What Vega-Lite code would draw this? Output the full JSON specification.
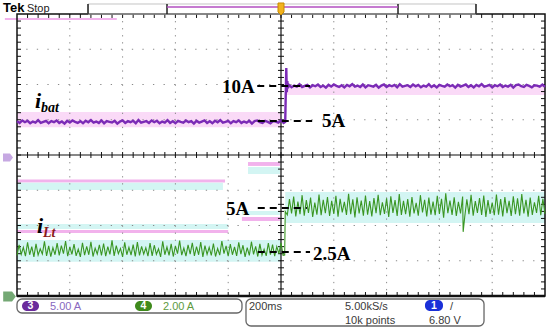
{
"$schema": "https://vega.github.io/schema/vega-lite/v6.json",
"width": 528, "height": 282,
"padding": {"left": 17, "top": 14, "right": 5, "bottom": 33},
"autosize": {"type": "none"},
"background": "white",
"config": {"view": {"stroke": null}},
"data": {"values": [{}]},
"datasets": {
"tx": [{"v":0.2},{"v":0.4},{"v":0.6},{"v":0.8},{"v":1},{"v":1.2},{"v":1.4},{"v":1.6},{"v":1.8},{"v":2},{"v":2.2},{"v":2.4},{"v":2.6},{"v":2.8},{"v":3},{"v":3.2},{"v":3.4},{"v":3.6},{"v":3.8},{"v":4},{"v":4.2},{"v":4.4},{"v":4.6},{"v":4.8},{"v":5},{"v":5.2},{"v":5.4},{"v":5.6},{"v":5.8},{"v":6},{"v":6.2},{"v":6.4},{"v":6.6},{"v":6.8},{"v":7},{"v":7.2},{"v":7.4},{"v":7.6},{"v":7.8},{"v":8},{"v":8.2},{"v":8.4},{"v":8.6},{"v":8.8},{"v":9},{"v":9.2},{"v":9.4},{"v":9.6},{"v":9.8}],
"ty": [{"v":-3.8},{"v":-3.6},{"v":-3.4},{"v":-3.2},{"v":-3},{"v":-2.8},{"v":-2.6},{"v":-2.4},{"v":-2.2},{"v":-2},{"v":-1.8},{"v":-1.6},{"v":-1.4},{"v":-1.2},{"v":-1},{"v":-0.8},{"v":-0.6},{"v":-0.4},{"v":-0.2},{"v":0},{"v":0.2},{"v":0.4},{"v":0.6},{"v":0.8},{"v":1},{"v":1.2},{"v":1.4},{"v":1.6},{"v":1.8},{"v":2},{"v":2.2},{"v":2.4},{"v":2.6},{"v":2.8},{"v":3},{"v":3.2},{"v":3.4},{"v":3.6},{"v":3.8}],
"bg": [
{"x":0,"x2":5.0,"y":0.79,"y2":1.22,"c":"hp"},
{"x":5.1,"x2":10,"y":1.70,"y2":1.96,"c":"hp"},
{"x":0,"x2":5.0,"y":-3.03,"y2":-2.41,"c":"gc"},
{"x":5.08,"x2":10,"y":-1.93,"y2":-1.05,"c":"gc"},
{"x":0,"x2":3.94,"y":-0.78,"y2":-0.695,"c":"gp"},
{"x":0,"x2":3.9,"y":-0.99,"y2":-0.79,"c":"gc"},
{"x":0,"x2":4.0,"y":-2.10,"y2":-1.96,"c":"gc"},
{"x":0,"x2":4.0,"y":-2.21,"y2":-2.13,"c":"gp"},
{"x":4.375,"x2":4.98,"y":-0.31,"y2":-0.2,"c":"gp"},
{"x":4.375,"x2":4.98,"y":-0.54,"y2":-0.34,"c":"gc"},
{"x":4.26,"x2":4.98,"y":-1.70,"y2":-1.59,"c":"gc"},
{"x":4.26,"x2":4.98,"y":-1.87,"y2":-1.76,"c":"gp"},
{"x":-0.23,"x2":1.89,"y":3.83,"y2":3.89,"c":"gp"}
],
"purple": [
{"x":0,"y":0.96},{"x":0.05,"y":0.91},{"x":0.1,"y":0.98},{"x":0.15,"y":0.93},{"x":0.2,"y":0.97},{"x":0.25,"y":0.9},{"x":0.3,"y":0.95},{"x":0.35,"y":0.92},{"x":0.4,"y":0.99},{"x":0.45,"y":0.91},
{"x":0.5,"y":0.94},{"x":0.55,"y":0.97},{"x":0.6,"y":0.9},{"x":0.65,"y":0.96},{"x":0.7,"y":0.93},{"x":0.75,"y":0.98},{"x":0.8,"y":0.91},{"x":0.85,"y":0.95},{"x":0.9,"y":0.89},{"x":0.95,"y":0.97},
{"x":1,"y":0.92},{"x":1.05,"y":0.98},{"x":1.1,"y":0.94},{"x":1.15,"y":0.91},{"x":1.2,"y":0.96},{"x":1.25,"y":0.9},{"x":1.3,"y":0.97},{"x":1.35,"y":0.93},{"x":1.4,"y":0.99},{"x":1.45,"y":0.92},
{"x":1.5,"y":0.95},{"x":1.55,"y":0.91},{"x":1.6,"y":0.98},{"x":1.65,"y":0.9},{"x":1.7,"y":0.96},{"x":1.75,"y":0.94},{"x":1.8,"y":0.92},{"x":1.85,"y":0.97},{"x":1.9,"y":0.89},{"x":1.95,"y":0.95},
{"x":2,"y":0.98},{"x":2.05,"y":0.91},{"x":2.1,"y":0.96},{"x":2.15,"y":0.93},{"x":2.2,"y":0.97},{"x":2.25,"y":0.9},{"x":2.3,"y":0.99},{"x":2.35,"y":0.92},{"x":2.4,"y":0.94},{"x":2.45,"y":0.96},
{"x":2.5,"y":0.91},{"x":2.55,"y":0.98},{"x":2.6,"y":0.93},{"x":2.65,"y":0.97},{"x":2.7,"y":0.9},{"x":2.75,"y":0.95},{"x":2.8,"y":0.92},{"x":2.85,"y":0.99},{"x":2.9,"y":0.91},{"x":2.95,"y":0.96},
{"x":3,"y":0.9},{"x":3.05,"y":0.97},{"x":3.1,"y":0.94},{"x":3.15,"y":0.92},{"x":3.2,"y":0.98},{"x":3.25,"y":0.93},{"x":3.3,"y":0.96},{"x":3.35,"y":0.89},{"x":3.4,"y":0.97},{"x":3.45,"y":0.92},
{"x":3.5,"y":0.95},{"x":3.55,"y":0.98},{"x":3.6,"y":0.91},{"x":3.65,"y":0.96},{"x":3.7,"y":0.9},{"x":3.75,"y":0.97},{"x":3.8,"y":0.93},{"x":3.85,"y":0.99},{"x":3.9,"y":0.92},{"x":3.95,"y":0.94},
{"x":4,"y":0.97},{"x":4.05,"y":0.9},{"x":4.1,"y":0.96},{"x":4.15,"y":0.93},{"x":4.2,"y":0.98},{"x":4.25,"y":0.91},{"x":4.3,"y":0.95},{"x":4.35,"y":0.92},{"x":4.4,"y":0.97},{"x":4.45,"y":0.89},
{"x":4.5,"y":0.96},{"x":4.55,"y":0.98},{"x":4.6,"y":0.93},{"x":4.65,"y":0.91},{"x":4.7,"y":0.97},{"x":4.75,"y":0.94},{"x":4.8,"y":0.9},{"x":4.85,"y":0.96},{"x":4.9,"y":0.95},{"x":4.95,"y":0.92},
{"x":5,"y":0.98},{"x":5.05,"y":0.91},
{"x":5.08,"y":0.94},{"x":5.1,"y":2.47},{"x":5.11,"y":1.78},{"x":5.12,"y":2.1},{"x":5.13,"y":1.9},
{"x":5.15,"y":1.99},{"x":5.2,"y":1.92},{"x":5.25,"y":1.97},{"x":5.3,"y":1.94},{"x":5.35,"y":2.01},{"x":5.4,"y":1.93},{"x":5.45,"y":1.96},{"x":5.5,"y":1.99},{"x":5.55,"y":1.92},{"x":5.6,"y":1.98},
{"x":5.65,"y":1.95},{"x":5.7,"y":2},{"x":5.75,"y":1.93},{"x":5.8,"y":1.97},{"x":5.85,"y":1.91},{"x":5.9,"y":1.99},{"x":5.95,"y":1.94},{"x":6,"y":2},{"x":6.05,"y":1.96},{"x":6.1,"y":1.93},
{"x":6.15,"y":1.98},{"x":6.2,"y":1.92},{"x":6.25,"y":1.99},{"x":6.3,"y":1.95},{"x":6.35,"y":2.01},{"x":6.4,"y":1.94},{"x":6.45,"y":1.97},{"x":6.5,"y":1.93},{"x":6.55,"y":2},{"x":6.6,"y":1.92},
{"x":6.65,"y":1.98},{"x":6.7,"y":1.96},{"x":6.75,"y":1.94},{"x":6.8,"y":1.99},{"x":6.85,"y":1.91},{"x":6.9,"y":1.97},{"x":6.95,"y":2},{"x":7,"y":1.93},{"x":7.05,"y":1.98},{"x":7.1,"y":1.95},
{"x":7.15,"y":1.99},{"x":7.2,"y":1.92},{"x":7.25,"y":2.01},{"x":7.3,"y":1.94},{"x":7.35,"y":1.96},{"x":7.4,"y":1.98},{"x":7.45,"y":1.93},{"x":7.5,"y":2},{"x":7.55,"y":1.95},{"x":7.6,"y":1.99},
{"x":7.65,"y":1.92},{"x":7.7,"y":1.97},{"x":7.75,"y":1.94},{"x":7.8,"y":2.01},{"x":7.85,"y":1.93},{"x":7.9,"y":1.98},{"x":7.95,"y":1.92},{"x":8,"y":1.99},{"x":8.05,"y":1.96},{"x":8.1,"y":1.94},
{"x":8.15,"y":2},{"x":8.2,"y":1.95},{"x":8.25,"y":1.98},{"x":8.3,"y":1.91},{"x":8.35,"y":1.99},{"x":8.4,"y":1.94},{"x":8.45,"y":1.97},{"x":8.5,"y":2},{"x":8.55,"y":1.93},{"x":8.6,"y":1.98},
{"x":8.65,"y":1.92},{"x":8.7,"y":1.99},{"x":8.75,"y":1.95},{"x":8.8,"y":2.01},{"x":8.85,"y":1.94},{"x":8.9,"y":1.96},{"x":8.95,"y":1.99},{"x":9,"y":1.92},{"x":9.05,"y":1.98},{"x":9.1,"y":1.95},
{"x":9.15,"y":2},{"x":9.2,"y":1.93},{"x":9.25,"y":1.97},{"x":9.3,"y":1.94},{"x":9.35,"y":1.99},{"x":9.4,"y":1.91},{"x":9.45,"y":1.98},{"x":9.5,"y":2},{"x":9.55,"y":1.95},{"x":9.6,"y":1.93},
{"x":9.65,"y":1.99},{"x":9.7,"y":1.96},{"x":9.75,"y":1.92},{"x":9.8,"y":1.98},{"x":9.85,"y":1.97},{"x":9.9,"y":1.94},{"x":9.95,"y":2},{"x":10,"y":1.93}
],
"green": [
{"x":0,"y":-2.85},{"x":0.04,"y":-2.55},{"x":0.08,"y":-2.82},{"x":0.12,"y":-2.62},{"x":0.16,"y":-2.87},{"x":0.2,"y":-2.48},{"x":0.24,"y":-2.83},{"x":0.28,"y":-2.6},{"x":0.32,"y":-2.89},{"x":0.36,"y":-2.52},
{"x":0.4,"y":-2.84},{"x":0.44,"y":-2.66},{"x":0.48,"y":-2.81},{"x":0.52,"y":-2.45},{"x":0.56,"y":-2.86},{"x":0.6,"y":-2.58},{"x":0.64,"y":-2.88},{"x":0.68,"y":-2.63},{"x":0.72,"y":-2.83},{"x":0.76,"y":-2.5},
{"x":0.8,"y":-2.85},{"x":0.84,"y":-2.57},{"x":0.88,"y":-2.8},{"x":0.92,"y":-2.44},{"x":0.96,"y":-2.87},{"x":1,"y":-2.61},{"x":1.04,"y":-2.82},{"x":1.08,"y":-2.53},{"x":1.12,"y":-2.86},{"x":1.16,"y":-2.67},
{"x":1.2,"y":-2.89},{"x":1.24,"y":-2.49},{"x":1.28,"y":-2.84},{"x":1.32,"y":-2.59},{"x":1.36,"y":-2.83},{"x":1.4,"y":-2.46},{"x":1.44,"y":-2.88},{"x":1.48,"y":-2.64},{"x":1.52,"y":-2.81},{"x":1.56,"y":-2.55},
{"x":1.6,"y":-2.85},{"x":1.64,"y":-2.51},{"x":1.68,"y":-2.87},{"x":1.72,"y":-2.6},{"x":1.76,"y":-2.82},{"x":1.8,"y":-2.42},{"x":1.84,"y":-2.86},{"x":1.88,"y":-2.57},{"x":1.92,"y":-2.8},{"x":1.96,"y":-2.65},
{"x":2,"y":-2.89},{"x":2.04,"y":-2.48},{"x":2.08,"y":-2.83},{"x":2.12,"y":-2.62},{"x":2.16,"y":-2.84},{"x":2.2,"y":-2.54},{"x":2.24,"y":-2.88},{"x":2.28,"y":-2.47},{"x":2.32,"y":-2.85},{"x":2.36,"y":-2.59},
{"x":2.4,"y":-2.81},{"x":2.44,"y":-2.63},{"x":2.48,"y":-2.87},{"x":2.52,"y":-2.5},{"x":2.56,"y":-2.86},{"x":2.6,"y":-2.56},{"x":2.64,"y":-2.82},{"x":2.68,"y":-2.66},{"x":2.72,"y":-2.89},{"x":2.76,"y":-2.45},
{"x":2.8,"y":-2.83},{"x":2.84,"y":-2.61},{"x":2.88,"y":-2.85},{"x":2.92,"y":-2.52},{"x":2.96,"y":-2.88},{"x":3,"y":-2.58},{"x":3.04,"y":-2.8},{"x":3.08,"y":-2.43},{"x":3.12,"y":-2.84},{"x":3.16,"y":-2.64},
{"x":3.2,"y":-2.87},{"x":3.24,"y":-2.55},{"x":3.28,"y":-2.81},{"x":3.32,"y":-2.49},{"x":3.36,"y":-2.86},{"x":3.4,"y":-2.6},{"x":3.44,"y":-2.83},{"x":3.48,"y":-2.47},{"x":3.52,"y":-2.89},{"x":3.56,"y":-2.57},
{"x":3.6,"y":-2.82},{"x":3.64,"y":-2.62},{"x":3.68,"y":-2.85},{"x":3.72,"y":-2.51},{"x":3.76,"y":-2.88},{"x":3.8,"y":-2.65},{"x":3.84,"y":-2.84},{"x":3.88,"y":-2.44},{"x":3.92,"y":-2.8},{"x":3.96,"y":-2.58},
{"x":4,"y":-2.87},{"x":4.04,"y":-2.53},{"x":4.08,"y":-2.83},{"x":4.12,"y":-2.61},{"x":4.16,"y":-2.86},{"x":4.2,"y":-2.48},{"x":4.24,"y":-2.81},{"x":4.28,"y":-2.56},{"x":4.32,"y":-2.89},{"x":4.36,"y":-2.63},
{"x":4.4,"y":-2.85},{"x":4.44,"y":-2.46},{"x":4.48,"y":-2.82},{"x":4.52,"y":-2.59},{"x":4.56,"y":-2.88},{"x":4.6,"y":-2.52},{"x":4.64,"y":-2.84},{"x":4.68,"y":-2.67},{"x":4.72,"y":-2.86},{"x":4.76,"y":-2.5},
{"x":4.8,"y":-2.83},{"x":4.84,"y":-2.54},{"x":4.88,"y":-2.87},{"x":4.92,"y":-2.6},{"x":4.96,"y":-2.8},{"x":5,"y":-2.49},{"x":5.04,"y":-2.85},
{"x":5.07,"y":-2.84},{"x":5.08,"y":-1.6},
{"x":5.12,"y":-1.7},{"x":5.16,"y":-1.25},{"x":5.2,"y":-1.66},{"x":5.24,"y":-1.18},{"x":5.28,"y":-1.74},{"x":5.32,"y":-1.32},{"x":5.36,"y":-1.68},{"x":5.4,"y":-1.14},{"x":5.44,"y":-1.72},{"x":5.48,"y":-1.28},
{"x":5.52,"y":-1.64},{"x":5.56,"y":-1.21},{"x":5.6,"y":-1.76},{"x":5.64,"y":-1.35},{"x":5.68,"y":-1.69},{"x":5.72,"y":-1.12},{"x":5.76,"y":-1.71},{"x":5.8,"y":-1.27},{"x":5.84,"y":-1.65},{"x":5.88,"y":-1.19},
{"x":5.92,"y":-1.73},{"x":5.96,"y":-1.3},{"x":6,"y":-1.67},{"x":6.04,"y":-1.16},{"x":6.08,"y":-1.75},{"x":6.12,"y":-1.24},{"x":6.16,"y":-1.63},{"x":6.2,"y":-1.33},{"x":6.24,"y":-1.7},{"x":6.28,"y":-1.1},
{"x":6.32,"y":-1.68},{"x":6.36,"y":-1.26},{"x":6.4,"y":-1.77},{"x":6.44,"y":-1.2},{"x":6.48,"y":-1.66},{"x":6.52,"y":-1.29},{"x":6.56,"y":-1.72},{"x":6.6,"y":-1.15},{"x":6.64,"y":-1.69},{"x":6.68,"y":-1.31},
{"x":6.72,"y":-1.74},{"x":6.76,"y":-1.22},{"x":6.8,"y":-1.65},{"x":6.84,"y":-1.13},{"x":6.88,"y":-1.71},{"x":6.92,"y":-1.34},{"x":6.96,"y":-1.67},{"x":7,"y":-1.23},{"x":7.04,"y":-1.76},{"x":7.08,"y":-1.17},
{"x":7.12,"y":-1.64},{"x":7.16,"y":-1.28},{"x":7.2,"y":-1.73},{"x":7.24,"y":-1.11},{"x":7.28,"y":-1.7},{"x":7.32,"y":-1.3},{"x":7.36,"y":-1.68},{"x":7.4,"y":-1.25},{"x":7.44,"y":-1.75},{"x":7.48,"y":-1.19},
{"x":7.52,"y":-1.66},{"x":7.56,"y":-1.36},{"x":7.6,"y":-1.72},{"x":7.64,"y":-1.14},{"x":7.68,"y":-1.63},{"x":7.72,"y":-1.27},{"x":7.76,"y":-1.74},{"x":7.8,"y":-1.21},{"x":7.84,"y":-1.69},{"x":7.88,"y":-1.32},
{"x":7.92,"y":-1.71},{"x":7.96,"y":-1.16},{"x":8,"y":-1.67},{"x":8.04,"y":-1.24},{"x":8.08,"y":-1.78},{"x":8.12,"y":-1.09},{"x":8.16,"y":-1.65},{"x":8.2,"y":-1.29},{"x":8.24,"y":-1.7},{"x":8.28,"y":-1.2},
{"x":8.32,"y":-1.73},{"x":8.36,"y":-1.33},{"x":8.4,"y":-1.66},{"x":8.44,"y":-1.18},{"x":8.45,"y":-2.18},{"x":8.48,"y":-1.75},{"x":8.52,"y":-1.26},{"x":8.56,"y":-1.68},{"x":8.6,"y":-1.13},{"x":8.64,"y":-1.72},{"x":8.68,"y":-1.31},
{"x":8.72,"y":-1.64},{"x":8.76,"y":-1.22},{"x":8.8,"y":-1.7},{"x":8.84,"y":-1.15},{"x":8.88,"y":-1.76},{"x":8.92,"y":-1.28},{"x":8.96,"y":-1.67},{"x":9,"y":-1.35},{"x":9.04,"y":-1.71},{"x":9.08,"y":-1.12},
{"x":9.12,"y":-1.69},{"x":9.16,"y":-1.25},{"x":9.2,"y":-1.74},{"x":9.24,"y":-1.19},{"x":9.28,"y":-1.65},{"x":9.32,"y":-1.3},{"x":9.36,"y":-1.73},{"x":9.4,"y":-1.17},{"x":9.44,"y":-1.68},{"x":9.48,"y":-1.23},
{"x":9.52,"y":-1.72},{"x":9.56,"y":-1.11},{"x":9.6,"y":-1.66},{"x":9.64,"y":-1.27},{"x":9.68,"y":-1.75},{"x":9.72,"y":-1.21},{"x":9.76,"y":-1.7},{"x":9.8,"y":-1.34},{"x":9.84,"y":-1.64},{"x":9.88,"y":-1.16},
{"x":9.92,"y":-1.71},{"x":9.96,"y":-1.24},{"x":10,"y":-1.67}
]
},
"resolve": {"scale": {"color": "independent"}},
"layer": [
{
"data": {"name": "bg"},
"mark": {"type": "rect"},
"encoding": {
"x": {"field": "x", "type": "quantitative", "scale": {"domain": [0, 10], "nice": false, "zero": false}, "axis": null},
"x2": {"field": "x2"},
"y": {"field": "y", "type": "quantitative", "scale": {"domain": [-4, 4], "nice": false, "zero": false}, "axis": null},
"y2": {"field": "y2"},
"color": {"field": "c", "type": "nominal", "scale": {"domain": ["hp", "gp", "gc"], "range": ["#fadaf7", "#f2b2ec", "#d3f5f3"]}, "legend": null}
}
},
{
"data": {"values": [{"v":1},{"v":2},{"v":3},{"v":4},{"v":6},{"v":7},{"v":8},{"v":9}]},
"mark": {"type": "rule", "color": "#8a8a8a", "strokeWidth": 1, "strokeDash": [1.3, 5.75]},
"encoding": {"x": {"field": "v", "type": "quantitative", "scale": {"domain": [0, 10], "nice": false, "zero": false}, "axis": null}}
},
{
"data": {"values": [{"v":-3},{"v":-2},{"v":-1},{"v":1},{"v":2},{"v":3}]},
"mark": {"type": "rule", "color": "#8a8a8a", "strokeWidth": 1, "strokeDash": [1.3, 9.26]},
"encoding": {"y": {"field": "v", "type": "quantitative", "scale": {"domain": [-4, 4], "nice": false, "zero": false}, "axis": null}}
},
{
"mark": {"type": "rule", "color": "#111111", "strokeWidth": 1.2},
"encoding": {"x": {"datum": 5, "type": "quantitative", "scale": {"domain": [0, 10], "nice": false, "zero": false}, "axis": null}}
},
{
"mark": {"type": "rule", "color": "#111111", "strokeWidth": 1.2},
"encoding": {"y": {"datum": 0, "type": "quantitative", "scale": {"domain": [-4, 4], "nice": false, "zero": false}, "axis": null}}
},
{
"data": {"name": "tx"},
"mark": {"type": "rule", "color": "#111111", "strokeWidth": 1},
"encoding": {
"x": {"field": "v", "type": "quantitative", "scale": {"domain": [0, 10], "nice": false, "zero": false}, "axis": null},
"y": {"datum": 4, "type": "quantitative", "scale": {"domain": [-4, 4], "nice": false, "zero": false}, "axis": null},
"y2": {"datum": 3.887}
}
},
{
"data": {"name": "tx"},
"mark": {"type": "rule", "color": "#111111", "strokeWidth": 1},
"encoding": {
"x": {"field": "v", "type": "quantitative", "scale": {"domain": [0, 10], "nice": false, "zero": false}, "axis": null},
"y": {"datum": -4, "type": "quantitative", "scale": {"domain": [-4, 4], "nice": false, "zero": false}, "axis": null},
"y2": {"datum": -3.887}
}
},
{
"data": {"name": "tx"},
"mark": {"type": "rule", "color": "#111111", "strokeWidth": 1},
"encoding": {
"x": {"field": "v", "type": "quantitative", "scale": {"domain": [0, 10], "nice": false, "zero": false}, "axis": null},
"y": {"datum": 0.085, "type": "quantitative", "scale": {"domain": [-4, 4], "nice": false, "zero": false}, "axis": null},
"y2": {"datum": -0.085}
}
},
{
"data": {"name": "ty"},
"mark": {"type": "rule", "color": "#111111", "strokeWidth": 1},
"encoding": {
"y": {"field": "v", "type": "quantitative", "scale": {"domain": [-4, 4], "nice": false, "zero": false}, "axis": null},
"x": {"datum": 0, "type": "quantitative", "scale": {"domain": [0, 10], "nice": false, "zero": false}, "axis": null},
"x2": {"datum": 0.0758}
}
},
{
"data": {"name": "ty"},
"mark": {"type": "rule", "color": "#111111", "strokeWidth": 1},
"encoding": {
"y": {"field": "v", "type": "quantitative", "scale": {"domain": [-4, 4], "nice": false, "zero": false}, "axis": null},
"x": {"datum": 10, "type": "quantitative", "scale": {"domain": [0, 10], "nice": false, "zero": false}, "axis": null},
"x2": {"datum": 9.924}
}
},
{
"data": {"name": "ty"},
"mark": {"type": "rule", "color": "#111111", "strokeWidth": 1},
"encoding": {
"y": {"field": "v", "type": "quantitative", "scale": {"domain": [-4, 4], "nice": false, "zero": false}, "axis": null},
"x": {"datum": 4.943, "type": "quantitative", "scale": {"domain": [0, 10], "nice": false, "zero": false}, "axis": null},
"x2": {"datum": 5.057}
}
},
{
"mark": {"type": "rect", "fillOpacity": 0, "stroke": "#111111", "strokeWidth": 1.5},
"encoding": {
"x": {"datum": 0, "type": "quantitative", "scale": {"domain": [0, 10], "nice": false, "zero": false}, "axis": null},
"x2": {"datum": 10},
"y": {"datum": -4, "type": "quantitative", "scale": {"domain": [-4, 4], "nice": false, "zero": false}, "axis": null},
"y2": {"datum": 4}
}
},
{
"mark": {"type": "rule", "color": "#111111", "strokeWidth": 2.5},
"encoding": {"y": {"datum": -4, "type": "quantitative", "scale": {"domain": [-4, 4], "nice": false, "zero": false}, "axis": null}}
},
{
"data": {"name": "purple"},
"mark": {"type": "line", "color": "#7b2bb6", "strokeWidth": 2.4},
"encoding": {
"x": {"field": "x", "type": "quantitative", "scale": {"domain": [0, 10], "nice": false, "zero": false}, "axis": null},
"y": {"field": "y", "type": "quantitative", "scale": {"domain": [-4, 4], "nice": false, "zero": false}, "axis": null}
}
},
{
"data": {"name": "green"},
"mark": {"type": "line", "color": "#3a9622", "strokeWidth": 1.1},
"encoding": {
"x": {"field": "x", "type": "quantitative", "scale": {"domain": [0, 10], "nice": false, "zero": false}, "axis": null},
"y": {"field": "y", "type": "quantitative", "scale": {"domain": [-4, 4], "nice": false, "zero": false}, "axis": null}
}
},
{
"data": {"values": [{"x": 4.55, "x2": 5.55, "y": 1.957}, {"x": 4.56, "x2": 5.59, "y": 0.965}, {"x": 4.56, "x2": 5.49, "y": -1.504}, {"x": 4.56, "x2": 5.55, "y": -2.752}]},
"mark": {"type": "rule", "color": "#000000", "strokeWidth": 2, "strokeDash": [7, 5]},
"encoding": {
"x": {"field": "x", "type": "quantitative", "scale": {"domain": [0, 10], "nice": false, "zero": false}, "axis": null},
"x2": {"field": "x2"},
"y": {"field": "y", "type": "quantitative", "scale": {"domain": [-4, 4], "nice": false, "zero": false}, "axis": null}
}
},
{
"data": {"values": [{"t": "10A", "x": 3.883, "y": 1.759}, {"t": "5A", "x": 5.777, "y": 0.794}, {"t": "5A", "x": 3.958, "y": -1.702}, {"t": "2.5A", "x": 5.606, "y": -2.979}]},
"mark": {"type": "text", "font": "Liberation Serif", "fontWeight": "bold", "fontSize": 19, "align": "left", "baseline": "alphabetic", "color": "#000000"},
"encoding": {
"x": {"field": "x", "type": "quantitative", "scale": {"domain": [0, 10], "nice": false, "zero": false}, "axis": null},
"y": {"field": "y", "type": "quantitative", "scale": {"domain": [-4, 4], "nice": false, "zero": false}, "axis": null},
"text": {"field": "t"}
}
},
{
"data": {"values": [{"t": "i", "x": 0.341, "y": 1.333}, {"t": "i", "x": 0.379, "y": -2.213}]},
"mark": {"type": "text", "font": "Liberation Serif", "fontWeight": "bold", "fontStyle": "italic", "fontSize": 22, "align": "left", "baseline": "alphabetic", "color": "#000000"},
"encoding": {
"x": {"field": "x", "type": "quantitative", "scale": {"domain": [0, 10], "nice": false, "zero": false}, "axis": null},
"y": {"field": "y", "type": "quantitative", "scale": {"domain": [-4, 4], "nice": false, "zero": false}, "axis": null},
"text": {"field": "t"}
}
},
{
"mark": {"type": "text", "text": "bat", "font": "Liberation Serif", "fontWeight": "bold", "fontStyle": "italic", "fontSize": 14, "align": "left", "baseline": "alphabetic", "color": "#000000"},
"encoding": {
"x": {"datum": 0.455, "type": "quantitative", "scale": {"domain": [0, 10], "nice": false, "zero": false}, "axis": null},
"y": {"datum": 1.22, "type": "quantitative", "scale": {"domain": [-4, 4], "nice": false, "zero": false}, "axis": null}
}
},
{
"mark": {"type": "text", "text": "Lt", "font": "Liberation Serif", "fontWeight": "bold", "fontStyle": "italic", "fontSize": 14, "align": "left", "baseline": "alphabetic", "color": "#8b1a1a"},
"encoding": {
"x": {"datum": 0.492, "type": "quantitative", "scale": {"domain": [0, 10], "nice": false, "zero": false}, "axis": null},
"y": {"datum": -2.326, "type": "quantitative", "scale": {"domain": [-4, 4], "nice": false, "zero": false}, "axis": null}
}
},
{
"mark": {"type": "text", "text": "Tek", "font": "Liberation Sans", "fontWeight": "bold", "fontSize": 13, "align": "left", "baseline": "alphabetic", "color": "#000000"},
"encoding": {
"x": {"datum": -0.265, "type": "quantitative", "scale": {"domain": [0, 10], "nice": false, "zero": false}, "axis": null},
"y": {"datum": 4.043, "type": "quantitative", "scale": {"domain": [-4, 4], "nice": false, "zero": false}, "axis": null}
}
},
{
"mark": {"type": "text", "text": "Stop", "font": "Liberation Sans", "fontSize": 11, "align": "left", "baseline": "alphabetic", "color": "#222222"},
"encoding": {
"x": {"datum": 0.189, "type": "quantitative", "scale": {"domain": [0, 10], "nice": false, "zero": false}, "axis": null},
"y": {"datum": 4.043, "type": "quantitative", "scale": {"domain": [-4, 4], "nice": false, "zero": false}, "axis": null}
}
},
{
"mark": {"type": "rect", "fillOpacity": 0, "stroke": "#c4c4c4", "strokeWidth": 1},
"encoding": {
"x": {"datum": 1.345, "type": "quantitative", "scale": {"domain": [0, 10], "nice": false, "zero": false}, "axis": null},
"x2": {"datum": 8.693},
"y": {"datum": 4.0, "type": "quantitative", "scale": {"domain": [-4, 4], "nice": false, "zero": false}, "axis": null},
"y2": {"datum": 4.284}
}
},
{
"data": {"values": [{"x": 1.345}, {"x": 2.841}, {"x": 7.216}, {"x": 8.693}]},
"mark": {"type": "rule", "color": "#222222", "strokeWidth": 1.5},
"encoding": {
"x": {"field": "x", "type": "quantitative", "scale": {"domain": [0, 10], "nice": false, "zero": false}, "axis": null},
"y": {"datum": 4.0, "type": "quantitative", "scale": {"domain": [-4, 4], "nice": false, "zero": false}, "axis": null},
"y2": {"datum": 4.284}
}
},
{
"mark": {"type": "rule", "color": "#b24fc0", "strokeWidth": 1.5},
"encoding": {
"x": {"datum": 2.841, "type": "quantitative", "scale": {"domain": [0, 10], "nice": false, "zero": false}, "axis": null},
"x2": {"datum": 7.216},
"y": {"datum": 4.199, "type": "quantitative", "scale": {"domain": [-4, 4], "nice": false, "zero": false}, "axis": null}
}
},
{
"mark": {"type": "point", "shape": "M-0.5,-1L0.5,-1L0.5,0.5L0,1L-0.5,0.5Z", "size": 144, "filled": true, "fill": "#f2b21e", "stroke": "#c88a00", "strokeWidth": 1, "opacity": 1},
"encoding": {
"x": {"datum": 5, "type": "quantitative", "scale": {"domain": [0, 10], "nice": false, "zero": false}, "axis": null},
"y": {"datum": 4.142, "type": "quantitative", "scale": {"domain": [-4, 4], "nice": false, "zero": false}, "axis": null}
}
},
{
"mark": {"type": "point", "shape": "M-1,-0.8L0.4,-0.8L1,0L0.4,0.8L-1,0.8Z", "size": 100, "filled": true, "fill": "#c6a8e2", "opacity": 1},
"encoding": {
"x": {"datum": -0.17, "type": "quantitative", "scale": {"domain": [0, 10], "nice": false, "zero": false}, "axis": null},
"y": {"datum": -0.07, "type": "quantitative", "scale": {"domain": [-4, 4], "nice": false, "zero": false}, "axis": null}
}
},
{
"mark": {"type": "point", "shape": "M-1,-0.8L0.4,-0.8L1,0L0.4,0.8L-1,0.8Z", "size": 160, "filled": true, "fill": "#74a874", "opacity": 1},
"encoding": {
"x": {"datum": -0.142, "type": "quantitative", "scale": {"domain": [0, 10], "nice": false, "zero": false}, "axis": null},
"y": {"datum": -4.014, "type": "quantitative", "scale": {"domain": [-4, 4], "nice": false, "zero": false}, "axis": null}
}
},
{
"data": {"values": [{"x": 0, "x2": 4.261, "y": -4.482, "y2": -4.085}, {"x": 4.337, "x2": 8.845, "y": -4.851, "y2": -4.085}]},
"mark": {"type": "rect", "fill": "#ffffff", "stroke": "#666666", "strokeWidth": 1.3, "cornerRadius": 5},
"encoding": {
"x": {"field": "x", "type": "quantitative", "scale": {"domain": [0, 10], "nice": false, "zero": false}, "axis": null},
"x2": {"field": "x2"},
"y": {"field": "y", "type": "quantitative", "scale": {"domain": [-4, 4], "nice": false, "zero": false}, "axis": null},
"y2": {"field": "y2"}
}
},
{
"data": {"values": [{"ch": "3", "x": 0.095, "x2": 0.417, "y": -4.426, "y2": -4.142}, {"ch": "4", "x": 2.235, "x2": 2.557, "y": -4.426, "y2": -4.142}, {"ch": "1", "x": 7.727, "x2": 8.068, "y": -4.426, "y2": -4.113}]},
"mark": {"type": "rect", "cornerRadius": 5},
"encoding": {
"x": {"field": "x", "type": "quantitative", "scale": {"domain": [0, 10], "nice": false, "zero": false}, "axis": null},
"x2": {"field": "x2"},
"y": {"field": "y", "type": "quantitative", "scale": {"domain": [-4, 4], "nice": false, "zero": false}, "axis": null},
"y2": {"field": "y2"},
"color": {"field": "ch", "type": "nominal", "scale": {"domain": ["3", "4", "1"], "range": ["#6b2b9c", "#3f8a1c", "#1a30d8"]}, "legend": null}
}
},
{
"data": {"values": [{"t": "3", "x": 0.256, "y": -4.284}, {"t": "4", "x": 2.396, "y": -4.284}, {"t": "1", "x": 7.898, "y": -4.27}]},
"mark": {"type": "text", "font": "Liberation Sans", "fontWeight": "bold", "fontSize": 10.5, "align": "center", "baseline": "middle", "color": "#ffffff"},
"encoding": {
"x": {"field": "x", "type": "quantitative", "scale": {"domain": [0, 10], "nice": false, "zero": false}, "axis": null},
"y": {"field": "y", "type": "quantitative", "scale": {"domain": [-4, 4], "nice": false, "zero": false}, "axis": null},
"text": {"field": "t"}
}
},
{
"mark": {"type": "text", "text": "5.00 A", "font": "Liberation Sans", "fontSize": 11, "align": "left", "baseline": "alphabetic", "color": "#8868c0"},
"encoding": {
"x": {"datum": 0.625, "type": "quantitative", "scale": {"domain": [0, 10], "nice": false, "zero": false}, "axis": null},
"y": {"datum": -4.397, "type": "quantitative", "scale": {"domain": [-4, 4], "nice": false, "zero": false}, "axis": null}
}
},
{
"mark": {"type": "text", "text": "2.00 A", "font": "Liberation Sans", "fontSize": 11, "align": "left", "baseline": "alphabetic", "color": "#5e9a3e"},
"encoding": {
"x": {"datum": 2.765, "type": "quantitative", "scale": {"domain": [0, 10], "nice": false, "zero": false}, "axis": null},
"y": {"datum": -4.397, "type": "quantitative", "scale": {"domain": [-4, 4], "nice": false, "zero": false}, "axis": null}
}
},
{
"data": {"values": [{"t": "200ms", "x": 4.394, "y": -4.397}, {"t": "5.00kS/s", "x": 6.212, "y": -4.397}, {"t": "/", "x": 8.201, "y": -4.397}, {"t": "10k points", "x": 6.212, "y": -4.794}, {"t": "6.80 V", "x": 7.803, "y": -4.794}]},
"mark": {"type": "text", "font": "Liberation Sans", "fontSize": 11, "align": "left", "baseline": "alphabetic", "color": "#3a3a3a"},
"encoding": {
"x": {"field": "x", "type": "quantitative", "scale": {"domain": [0, 10], "nice": false, "zero": false}, "axis": null},
"y": {"field": "y", "type": "quantitative", "scale": {"domain": [-4, 4], "nice": false, "zero": false}, "axis": null},
"text": {"field": "t"}
}
}
]
}
